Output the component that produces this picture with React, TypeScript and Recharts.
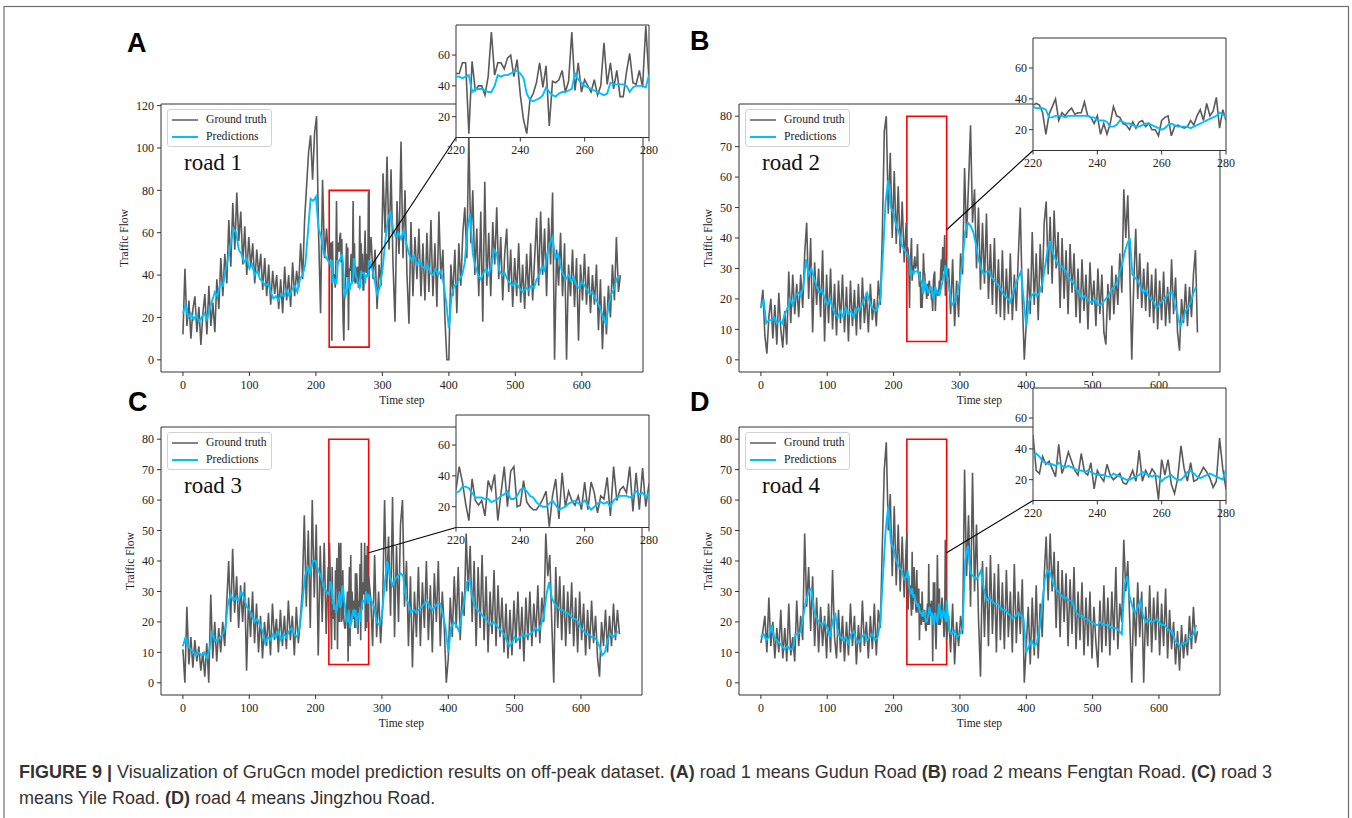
import React from 'react';
import { LineChart, Line, XAxis, YAxis, ReferenceArea, ReferenceLine, Legend, CartesianGrid } from 'recharts';

// ---------- tick labels ----------
const timeTicks = [0, 100, 200, 300, 400, 500, 600];
const insetXTicks = [220, 240, 260, 280];
const insetYTicks = [20, 40, 60];
const flowTicksA = [0, 20, 40, 60, 80, 100, 120];
const flowTicksBCD = [0, 10, 20, 30, 40, 50, 60, 70, 80];
const roadNames = ['road 1', 'road 2', 'road 3', 'road 4'];
const panelLetters = ['A', 'B', 'C', 'D'];

// ---------- road 1 ----------
// ground truth, t = 0..219 every 3 steps
const gtA_pre = [
  12, 43, 16, 28, 10, 24, 30, 13, 25, 7,
  22, 31, 12, 35, 16, 27, 13, 38, 24, 48,
  30, 50, 36, 66, 44, 74, 52, 79, 56, 70,
  45, 63, 40, 58, 44, 55, 36, 52, 40, 50,
  33, 48, 30, 45, 26, 42, 31, 40, 24, 38,
  22, 44, 28, 40, 25, 46, 30, 42, 34, 55,
  38, 66, 82, 98, 106, 85, 107, 115, 60, 22,
  85, 48, 62, 47,
];
// ground truth, t = 220..280 every step (zoom window)
const gtA_in = [
  48, 48, 55, 55, 9, 56, 37, 40, 40, 34,
  46, 75, 47, 55, 55, 51, 58, 60, 46, 57,
  34, 18, 9, 31, 35, 42, 55, 39, 53, 14,
  43, 42, 44, 50, 36, 43, 75, 37, 55, 36,
  44, 40, 36, 44, 34, 40, 68, 41, 55, 38,
  50, 33, 33, 49, 61, 42, 41, 50, 39, 79,
  44,
];
// ground truth, t = 283..658 every 3 steps
const gtA_post = [
  58, 38, 52, 24, 45, 35, 88, 60, 96, 52,
  90, 45, 18, 75, 50, 103, 48, 80, 40, 17,
  65, 30, 58, 38, 62, 30, 55, 28, 60, 32,
  66, 30, 55, 25, 70, 38, 52, 20, 0, 0,
  45, 30, 52, 22, 55, 35, 60, 72, 48, 106,
  55, 80, 40, 62, 30, 70, 18, 84, 35, 60,
  30, 65, 45, 72, 38, 58, 28, 50, 62, 32,
  52, 25, 48, 30, 55, 27, 45, 24, 50, 30,
  55, 28, 48, 67, 35, 70, 40, 62, 30, 67,
  45, 79, 0, 52, 35, 60, 30, 55, 0, 45,
  30, 52, 25, 48, 9, 45, 28, 50, 26, 44,
  22, 40, 26, 45, 14, 38, 5, 30, 12, 35,
  20, 45, 28, 58, 32, 40,
];
// predictions, t = 0..216 every 4 steps
const predA_pre = [
  22, 26, 20, 22, 19, 21, 18, 20, 22, 19,
  24, 28, 32, 30, 36, 35, 42, 48, 55, 62,
  60, 52, 50, 46, 48, 43, 45, 40, 42, 38,
  37, 35, 36, 32, 29, 30, 28, 31, 30, 33,
  30, 33, 35, 32, 38, 40, 45, 60, 76, 75,
  77, 62, 58, 50, 48,
];
const predA_in = [
  46, 46, 45, 46, 47, 36, 38, 38, 38, 37,
  36, 36, 40, 47, 46, 47, 47, 48, 49, 50,
  48, 45, 35, 31, 30, 31, 32, 34, 39, 36,
  34, 33, 35, 36, 36, 37, 38, 48, 44, 42,
  40, 39, 38, 37, 36, 35, 34, 35, 42, 41,
  41, 41, 41, 40, 36, 39, 40, 40, 40, 39,
  47,
];
// predictions, t = 284..656 every 4 steps
const predA_post = [
  44, 38, 31, 34, 42, 55, 66, 70, 62, 58,
  60, 57, 61, 55, 50, 47, 49, 45, 47, 44,
  43, 45, 41, 40, 43, 40, 42, 36, 27, 15,
  30, 35, 36, 38, 40, 46, 62, 69, 50, 44,
  40, 38, 41, 43, 40, 45, 52, 50, 42, 40,
  41, 38, 36, 35, 37, 35, 33, 32, 34, 33,
  35, 34, 38, 40, 44, 42, 50, 55, 58, 48,
  50, 44, 40, 38, 40, 37, 39, 35, 34, 37,
  35, 33, 31, 32, 29, 27, 24, 20, 17, 25,
  31, 33, 38, 40,
];

// ---------- road 2 ----------
const gtB_pre = [
  17, 23, 8, 2, 14, 20, 7, 18, 5, 22,
  10, 4, 16, 5, 29, 12, 28, 15, 25, 14,
  28, 17, 35, 45, 20, 40, 9, 32, 18, 30,
  14, 36, 6, 28, 12, 30, 10, 25, 8, 26,
  12, 28, 9, 24, 6, 26, 11, 23, 8, 25,
  10, 27, 12, 22, 9, 25, 13, 20, 11, 26,
  18, 41, 75, 80, 48, 68, 40, 62, 38, 57,
  35, 52, 32, 45,
];
const gtB_in = [
  36, 37, 36, 31, 17, 30, 35, 40, 26, 31,
  29, 32, 34, 30, 31, 31, 38, 29, 28, 24,
  29, 17, 24, 17, 24, 35, 29, 28, 24, 23,
  20, 25, 21, 25, 26, 22, 24, 20, 20, 16,
  26, 28, 29, 16, 22, 23, 22, 21, 22, 26,
  23, 29, 33, 26, 37, 29, 32, 41, 21, 33,
  26,
];
const gtB_post = [
  30, 15, 33, 11, 26, 14, 35, 28, 63, 40,
  58, 77, 45, 56, 30, 50, 23, 45, 25, 48,
  20, 38, 18, 40, 15, 33, 14, 36, 13, 30,
  15, 35, 13, 28, 16, 34, 50, 20, 0, 12,
  30, 15, 42, 18, 35, 13, 38, 22, 45, 52,
  28, 47, 25, 49, 30, 42, 17, 40, 20, 36,
  15, 38, 22, 35, 14, 30, 12, 33, 16, 28,
  10, 32, 18, 26, 11, 30, 15, 28, 9, 5,
  25, 13, 31, 15, 28, 18, 35, 22, 56, 40,
  54, 30, 0, 25, 43, 20, 35, 17, 30, 16,
  32, 14, 28, 12, 30, 10, 26, 13, 29, 11,
  24, 12, 33, 15, 27, 9, 3, 20, 12, 25,
  11, 24, 14, 28, 36, 9,
];
const predB_pre = [
  17, 20, 12, 13, 13, 14, 12, 13, 12, 15,
  17, 20, 18, 21, 22, 21, 24, 33, 28, 30,
  27, 24, 22, 23, 20, 18, 20, 17, 15, 14,
  16, 14, 17, 15, 16, 14, 17, 16, 18, 20,
  22, 19, 17, 16, 17, 20, 35, 52, 59, 50,
  48, 44, 42, 38, 36,
];
const predB_in = [
  35, 34, 34, 34, 33, 28, 28, 29, 29, 29,
  28, 29, 29, 29, 29, 29, 29, 29, 28, 28,
  26, 26, 26, 25, 22, 22, 23, 26, 25, 24,
  24, 23, 22, 22, 23, 24, 24, 23, 22, 21,
  20, 21, 23, 24, 23, 22, 22, 22, 22, 21,
  22, 23, 24, 25, 26, 27, 28, 29, 31, 30,
  28,
];
const predB_post = [
  23, 18, 19, 22, 26, 33, 42, 45, 44, 42,
  38, 33, 30, 28, 29, 29, 27, 26, 25, 24,
  22, 21, 20, 19, 22, 25, 27, 29, 20, 11,
  19, 21, 22, 21, 22, 25, 30, 36, 39, 35,
  33, 31, 31, 30, 29, 27, 26, 25, 23, 22,
  20, 21, 20, 19, 19, 20, 18, 18, 19, 20,
  21, 23, 24, 25, 28, 31, 35, 38, 40, 28,
  27, 26, 24, 22, 23, 21, 20, 19, 17, 18,
  19, 20, 21, 22, 22, 18, 15, 11, 13, 16,
  17, 19, 22, 24,
];

// ---------- road 3 ----------
const gtC_pre = [
  11, 0, 25, 6, 15, 5, 14, 7, 12, 4,
  10, 2, 13, 0, 29, 8, 20, 7, 18, 10,
  20, 12, 26, 40, 20, 44, 23, 35, 18, 32,
  20, 33, 4, 28, 15, 30, 13, 26, 10, 22,
  8, 20, 12, 23, 9, 26, 14, 21, 10, 24,
  12, 22, 11, 27, 14, 22, 9, 25, 13, 21,
  30, 55, 25, 50, 18, 60, 28, 52, 9, 45,
  20, 46, 16, 38,
];
const gtC_in = [
  31, 46, 36, 22, 11, 38, 24, 21, 24, 14,
  37, 31, 41, 11, 29, 46, 20, 43, 46, 20,
  21, 37, 23, 20, 18, 18, 21, 25, 30, 7,
  27, 38, 12, 42, 20, 30, 24, 21, 27, 18,
  36, 18, 36, 29, 16, 27, 25, 39, 14, 46,
  24, 31, 33, 29, 46, 17, 42, 18, 45, 20,
  35,
];
const gtC_post = [
  28, 12, 42, 15, 30, 13, 25, 60, 30, 48,
  22, 61, 15, 45, 20, 52, 60, 25, 40, 12,
  35, 5, 30, 15, 38, 12, 33, 18, 40, 14,
  32, 10, 36, 20, 40, 12, 30, 18, 0, 8,
  28, 15, 35, 18, 38, 14, 30, 22, 49, 30,
  45, 20, 40, 12, 38, 18, 42, 14, 35, 10,
  30, 16, 37, 12, 32, 15, 28, 10, 26, 8,
  24, 9, 27, 13, 30, 11, 25, 7, 28, 14,
  30, 12, 26, 15, 32, 13, 28, 20, 49, 35,
  42, 20, 0, 38, 18, 35, 14, 32, 12, 30,
  16, 33, 12, 28, 10, 30, 14, 26, 9, 24,
  11, 27, 13, 22, 8, 2, 20, 12, 24, 10,
  22, 12, 26, 14, 24, 16,
];
const predC_pre = [
  12, 15, 12, 11, 10, 9, 10, 9, 10, 8,
  11, 17, 14, 14, 15, 16, 18, 26, 29, 27,
  28, 27, 30, 28, 25, 24, 22, 20, 21, 19,
  17, 13, 15, 14, 16, 15, 17, 14, 16, 15,
  17, 18, 16, 15, 18, 26, 35, 38, 36, 40,
  40, 37, 35, 32, 30,
];
const predC_in = [
  29, 30, 33, 33, 32, 29, 26, 26, 26, 25,
  25, 23, 24, 25, 27, 28, 30, 25, 25, 27,
  31, 32, 30, 27, 26, 23, 21, 20, 20, 22,
  24, 21, 18, 19, 20, 22, 23, 24, 22, 22,
  24, 21, 18, 20, 22, 23, 22, 23, 20, 24,
  26, 27, 27, 27, 26, 27, 30, 28, 29, 26,
  29,
];
const predC_post = [
  27, 25, 20, 19, 22, 32, 40, 35, 32, 34,
  35, 36, 35, 28, 26, 23, 24, 23, 24, 25,
  26, 27, 25, 24, 25, 26, 26, 22, 18, 10,
  18, 20, 19, 17, 22, 27, 33, 34, 28, 25,
  24, 23, 22, 21, 20, 19, 20, 19, 18, 17,
  16, 14, 12, 13, 15, 14, 15, 16, 15, 16,
  16, 17, 18, 17, 19, 22, 29, 33, 28, 26,
  25, 24, 24, 23, 23, 22, 21, 21, 20, 18,
  17, 16, 16, 15, 15, 14, 12, 9, 10, 14,
  16, 15, 16, 17,
];

// ---------- road 4 ----------
const gtD_pre = [
  13, 17, 22, 10, 28, 12, 20, 8, 18, 10,
  24, 8, 18, 7, 26, 9, 15, 7, 27, 12,
  22, 14, 49, 25, 38, 17, 35, 12, 28, 10,
  25, 12, 22, 8, 26, 10, 37, 15, 8, 24,
  10, 22, 7, 20, 9, 26, 12, 22, 6, 19,
  10, 27, 12, 20, 8, 22, 11, 26, 9, 24,
  18, 45, 70, 79, 50, 62, 35, 58, 32, 52,
  30, 48, 28, 45,
];
const gtD_in = [
  49, 26, 24, 35, 30, 32, 27, 22, 43, 24,
  30, 38, 32, 26, 23, 37, 25, 23, 31, 14,
  26, 22, 19, 30, 23, 20, 22, 24, 18, 17,
  21, 26, 19, 39, 19, 26, 22, 27, 24, 7,
  33, 23, 33, 17, 11, 21, 42, 27, 19, 31,
  19, 20, 24, 28, 25, 21, 15, 19, 47, 27,
  14,
];
const gtD_post = [
  22, 10, 26, 6, 20, 12, 22, 16, 70, 35,
  55, 25, 69, 30, 52, 21, 2, 40, 15, 38,
  12, 42, 16, 36, 10, 39, 14, 33, 11, 37,
  15, 30, 10, 39, 13, 30, 16, 34, 0, 12,
  25, 6, 28, 9, 32, 8, 26, 15, 35, 48,
  27, 49, 30, 43, 18, 40, 15, 37, 20, 36,
  12, 34, 16, 38, 11, 30, 14, 33, 9, 28,
  12, 30, 8, 25, 13, 5, 27, 10, 32, 12,
  28, 9, 30, 14, 38, 11, 26, 20, 47, 30,
  40, 20, 0, 28, 12, 33, 15, 30, 0, 25,
  12, 32, 10, 28, 14, 30, 9, 26, 12, 31,
  8, 24, 11, 20, 6, 17, 4, 19, 8, 16,
  9, 22, 11, 25, 13, 17,
];
const predD_pre = [
  15, 16, 14, 15, 19, 15, 14, 13, 12, 11,
  12, 11, 11, 16, 16, 17, 22, 27, 30, 31,
  24, 21, 20, 19, 20, 18, 15, 20, 23, 16,
  15, 14, 15, 13, 16, 17, 14, 13, 15, 16,
  14, 15, 16, 14, 15, 20, 35, 50, 58, 46,
  44, 40, 38, 37, 34,
];
const predD_in = [
  35, 37, 35, 32, 31, 30, 30, 29, 31, 29,
  28, 29, 28, 27, 26, 26, 25, 26, 25, 24,
  23, 23, 23, 22, 22, 24, 23, 22, 21, 20,
  20, 21, 22, 23, 25, 24, 23, 22, 23, 22,
  19, 21, 22, 23, 21, 20, 20, 22, 25, 26,
  24, 22, 21, 22, 23, 24, 23, 22, 21, 20,
  27,
];
const predD_post = [
  17, 16, 17, 15, 16, 18, 40, 45, 36, 35,
  34, 35, 37, 31, 27, 28, 27, 26, 26, 25,
  24, 24, 23, 22, 21, 22, 23, 22, 21, 10,
  12, 14, 12, 13, 18, 26, 34, 37, 36, 33,
  31, 30, 29, 28, 28, 27, 27, 25, 23, 22,
  22, 21, 21, 20, 20, 19, 19, 20, 19, 19,
  19, 18, 18, 18, 17, 16, 32, 35, 28, 25,
  23, 25, 27, 22, 20, 21, 20, 20, 21, 20,
  19, 19, 18, 17, 17, 14, 13, 12, 13, 13,
  14, 15, 16, 19,
];

// ---------- styling ----------
const GT_COLOR = '#5a5a5a';
const PRED_COLOR = '#00bfff';
const AXIS_COLOR = '#333333';
const SERIF = "'Liberation Serif', 'Times New Roman', serif";
const SANS = "'Liberation Sans', Arial, Helvetica, sans-serif";
const X_DOMAIN: [number, number] = [-33, 692];
const INSET_Y: [number, number] = [6.5, 79.5];
const INSET_W = 193;
const INSET_H = 112.5;

type Pt = { t: number; v: number };

function buildSeries(pre: number[], preStep: number, inset: number[], post: number[], postStart: number, postStep: number): Pt[] {
  const out: Pt[] = [];
  pre.forEach((v, i) => out.push({ t: i * preStep, v }));
  inset.forEach((v, i) => out.push({ t: 220 + i, v }));
  post.forEach((v, i) => out.push({ t: postStart + i * postStep, v }));
  return out;
}
function insetSeries(vals: number[]): Pt[] {
  return vals.map((v, i) => ({ t: 220 + i, v }));
}

const panels = [
  {
    letter: panelLetters[0], road: roadNames[0], fx: 161, fy: 104, fw: 482, fh: 268, yw: 74,
    yDomain: [-5.75, 120.75] as [number, number], yTicks: flowTicksA,
    gt: buildSeries(gtA_pre, 3, gtA_in, gtA_post, 283, 3),
    pred: buildSeries(predA_pre, 4, predA_in, predA_post, 284, 4),
    gtIn: insetSeries(gtA_in), predIn: insetSeries(predA_in),
    ix: 456, iy: 25, lx: 127, ly: 52,
  },
  {
    letter: panelLetters[1], road: roadNames[1], fx: 739, fy: 104, fw: 481, fh: 268, yw: 63,
    yDomain: [-4, 84] as [number, number], yTicks: flowTicksBCD,
    gt: buildSeries(gtB_pre, 3, gtB_in, gtB_post, 283, 3),
    pred: buildSeries(predB_pre, 4, predB_in, predB_post, 284, 4),
    gtIn: insetSeries(gtB_in), predIn: insetSeries(predB_in),
    ix: 1033, iy: 38, lx: 690, ly: 50,
  },
  {
    letter: panelLetters[2], road: roadNames[2], fx: 161, fy: 427, fw: 481, fh: 268, yw: 63,
    yDomain: [-4, 84] as [number, number], yTicks: flowTicksBCD,
    gt: buildSeries(gtC_pre, 3, gtC_in, gtC_post, 283, 3),
    pred: buildSeries(predC_pre, 4, predC_in, predC_post, 284, 4),
    gtIn: insetSeries(gtC_in), predIn: insetSeries(predC_in),
    ix: 456, iy: 415, lx: 128, ly: 411,
  },
  {
    letter: panelLetters[3], road: roadNames[3], fx: 739, fy: 427, fw: 481, fh: 268, yw: 63,
    yDomain: [-4, 84] as [number, number], yTicks: flowTicksBCD,
    gt: buildSeries(gtD_pre, 3, gtD_in, gtD_post, 283, 3),
    pred: buildSeries(predD_pre, 4, predD_in, predD_post, 284, 4),
    gtIn: insetSeries(gtD_in), predIn: insetSeries(predD_in),
    ix: 1033, iy: 388, lx: 690, ly: 411,
  },
];

const tickStyle = { fill: '#222', fontSize: 12, fontFamily: SERIF };

const renderLegend = (props: any) => {
  const payload = props.payload || [];
  return (
    <div
      style={{
        width: 105, height: 38, boxSizing: 'border-box', border: '1px solid #d2d2d2', borderRadius: 3,
        background: 'rgba(255,255,255,0.85)', padding: '1px 0 0 4px',
      }}
    >
      {payload.map((e: any) => (
        <div key={e.value} style={{ display: 'flex', alignItems: 'center', height: 17 }}>
          <svg width={26} height={4} style={{ display: 'block' }}>
            <line x1={0} y1={2} x2={26} y2={2} stroke={e.color} strokeWidth={e.color === PRED_COLOR ? 2 : 1.5} />
          </svg>
          <span style={{ marginLeft: 8, fontFamily: SERIF, fontSize: 11.7, color: '#222', lineHeight: '17px', whiteSpace: 'nowrap' }}>
            {e.value}
          </span>
        </div>
      ))}
    </div>
  );
};

function MainPanel({ p }: { p: (typeof panels)[number] }) {
  const W = p.yw + p.fw + 15;
  const H = 8 + p.fh + 40 + 4;
  const [x0, x1] = X_DOMAIN;
  const [y0, y1] = p.yDomain;
  const cornerX = x0 + ((p.ix - p.fx) / p.fw) * (x1 - x0);
  const cornerY = y0 + ((p.fy + p.fh - (p.iy + INSET_H)) / p.fh) * (y1 - y0);
  return (
    <div style={{ position: 'absolute', left: p.fx - p.yw, top: p.fy - 8, width: W, height: H, zIndex: 1 }}>
      <LineChart width={W} height={H} margin={{ top: 8, right: 15, bottom: 4, left: 0 }}>
        <XAxis
          type="number" dataKey="t" domain={X_DOMAIN} ticks={timeTicks} allowDataOverflow interval={0}
          axisLine={false} tickLine={{ stroke: AXIS_COLOR }} tickSize={4} tickMargin={4} height={40} tick={tickStyle}
          label={{ value: 'Time step', position: 'insideBottom', offset: 8, fill: '#222', fontSize: 11.5, fontFamily: SERIF }}
        />
        <YAxis
          type="number" domain={p.yDomain} ticks={p.yTicks} allowDataOverflow interval={0} width={p.yw}
          axisLine={false} tickLine={{ stroke: AXIS_COLOR }} tickSize={4} tickMargin={3} tick={tickStyle}
          label={{ value: 'Traffic Flow', angle: -90, position: 'center', fill: '#222', fontSize: 11.5, fontFamily: SERIF }}
        />
        <ReferenceArea x1={x0} x2={x1} y1={y0} y2={y1} fill="none" stroke={AXIS_COLOR} strokeWidth={1} ifOverflow="visible" />
        <Line data={p.gt} dataKey="v" name="Ground truth" type="linear" stroke={GT_COLOR} strokeWidth={1.6} dot={false} isAnimationActive={false} />
        <Line data={p.pred} dataKey="v" name="Predictions" type="linear" stroke={PRED_COLOR} strokeWidth={1.9} dot={false} isAnimationActive={false} />
        <ReferenceArea x1={220} x2={280} y1={6} y2={80} fill="none" stroke="#ff0000" strokeWidth={1.6} ifOverflow="visible" />
        <ReferenceLine segment={[{ x: 280, y: 42.7 }, { x: cornerX, y: cornerY }]} stroke="#000" strokeWidth={1.1} ifOverflow="visible" />
        <Legend
          layout="vertical" align="center" verticalAlign="middle" content={renderLegend}
          wrapperStyle={{ left: p.yw + 6, top: 8 + 5, width: 105, height: 38 }}
        />
      </LineChart>
    </div>
  );
}

function InsetPanel({ p }: { p: (typeof panels)[number] }) {
  const W = 30 + INSET_W + 14;
  const H = 4 + INSET_H + 22;
  return (
    <div style={{ position: 'absolute', left: p.ix - 30, top: p.iy - 4, width: W, height: H, zIndex: 3 }}>
      <LineChart width={W} height={H} margin={{ top: 4, right: 14, bottom: 0, left: 0 }}>
        <CartesianGrid fill="#ffffff" horizontal={false} vertical={false} />
        <XAxis
          type="number" dataKey="t" domain={[220, 280]} ticks={insetXTicks} allowDataOverflow interval={0}
          axisLine={false} tickLine={{ stroke: AXIS_COLOR }} tickSize={4} tickMargin={4} height={22} tick={tickStyle}
        />
        <YAxis
          type="number" domain={INSET_Y} ticks={insetYTicks} allowDataOverflow interval={0} width={30}
          axisLine={false} tickLine={{ stroke: AXIS_COLOR }} tickSize={4} tickMargin={2} tick={tickStyle}
        />
        <Line data={p.gtIn} dataKey="v" name="Ground truth" type="linear" stroke={GT_COLOR} strokeWidth={1.6} dot={false} isAnimationActive={false} />
        <Line data={p.predIn} dataKey="v" name="Predictions" type="linear" stroke={PRED_COLOR} strokeWidth={1.9} dot={false} isAnimationActive={false} />
        <ReferenceArea x1={220} x2={280} y1={INSET_Y[0]} y2={INSET_Y[1]} fill="none" stroke={AXIS_COLOR} strokeWidth={1} ifOverflow="visible" />
      </LineChart>
    </div>
  );
}

export default function App() {
  return (
    <div style={{ position: 'absolute', left: 0, top: 0, width: 1352, height: 818, overflow: 'hidden', background: '#fff' }}>
      {panels.map((p) => (
        <MainPanel key={'m' + p.letter} p={p} />
      ))}
      {panels.map((p) => (
        <InsetPanel key={'i' + p.letter} p={p} />
      ))}
      <svg width={1352} height={818} style={{ position: 'absolute', left: 0, top: 0, zIndex: 5, pointerEvents: 'none' }}>
        <rect x={4} y={6.5} width={1344.5} height={900} fill="none" stroke="#6e6e6e" strokeWidth={1.2} />
        {panels.map((p) => (
          <text key={'l' + p.letter} x={p.lx} y={p.ly} fontFamily={SANS} fontWeight="bold" fontSize={27} fill="#000">
            {p.letter}
          </text>
        ))}
        {panels.map((p) => (
          <text key={'r' + p.letter} x={p.fx + 23} y={p.fy + 66} fontFamily={SERIF} fontSize={23} fill="#111">
            {p.road}
          </text>
        ))}
        <text x={19} y={778} fontFamily={SANS} fontSize={18} fill="#333">
          <tspan fontWeight="bold">{'FIGURE 9 | '}</tspan>
          {'Visualization of GruGcn model prediction results on off-peak dataset. '}
          <tspan fontWeight="bold">{'(A)'}</tspan>
          {' road 1 means Gudun Road '}
          <tspan fontWeight="bold">{'(B)'}</tspan>
          {' road 2 means Fengtan Road. '}
          <tspan fontWeight="bold">{'(C)'}</tspan>
          {' road 3'}
        </text>
        <text x={19} y={804} fontFamily={SANS} fontSize={18} fill="#333">
          {'means Yile Road. '}
          <tspan fontWeight="bold">{'(D)'}</tspan>
          {' road 4 means Jingzhou Road.'}
        </text>
      </svg>
    </div>
  );
}
